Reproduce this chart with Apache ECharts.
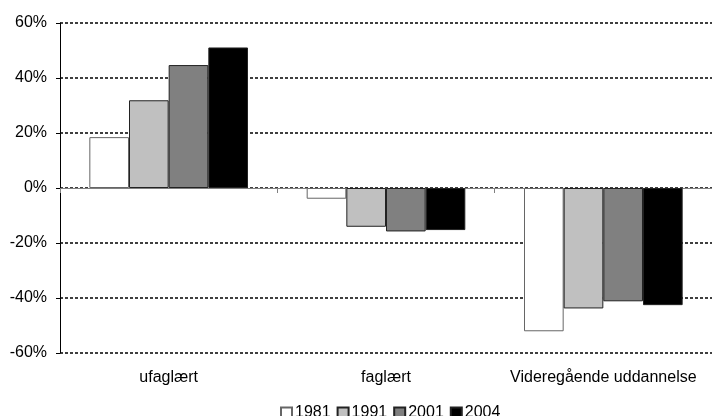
<!DOCTYPE html>
<html>
<head>
<meta charset="utf-8">
<script src="https://cdn.jsdelivr.net/npm/echarts@6/dist/echarts.min.js"></script>
<style>
  html, body { margin: 0; padding: 0; background: #fff; }
  #chart { width: 712px; height: 416px; }
</style>
</head>
<body>
<div id="chart"></div>
<script>
// Education groups and relative change per year (percent)
const categories = ['ufaglært', 'faglært', 'Videregående uddannelse'];
const years = ['1981', '1991', '2001', '2004'];
const values1981 = [18.5, -3.9, -52.1];
const values1991 = [31.9, -14.1, -43.8];
const values2001 = [44.7, -15.8, -41.2];
const values2004 = [51.1, -15.3, -42.6];
const yTicks = [-60, -40, -20, 0, 20, 40, 60];

const fills = ['#ffffff', '#c0c0c0', '#808080', '#000000'];
const seriesValues = [values1981, values1991, values2001, values2004];

const font = '"Liberation Sans", Arial, sans-serif';

const chart = echarts.init(document.getElementById('chart'), null, { renderer: 'canvas' });

chart.setOption({
  animation: false,
  backgroundColor: '#ffffff',
  grid: { left: 60, top: 23, bottom: 63, width: 660, containLabel: false },
  legend: {
    left: 275,
    top: 400,
    itemWidth: 11,
    itemHeight: 11,
    itemGap: 6,
    icon: 'rect',
    textStyle: { fontFamily: font, fontSize: 16, color: '#000', padding: [0, 0, 0, -2] },
    data: years
  },
  xAxis: [
    {
      type: 'category',
      data: categories,
      position: 'bottom',
      axisLine: { onZero: true, lineStyle: { color: '#808080', width: 1 } },
      axisTick: { show: true, length: 5, inside: false, lineStyle: { color: '#808080' } },
      axisLabel: { show: false },
      splitLine: { show: false }
    },
    {
      type: 'category',
      data: categories,
      position: 'bottom',
      axisLine: { show: false },
      axisTick: { show: false },
      axisLabel: { show: true, interval: 0, margin: 17, fontFamily: font, fontSize: 16, color: '#000' },
      splitLine: { show: false }
    }
  ],
  yAxis: {
    type: 'value',
    min: yTicks[0],
    max: yTicks[yTicks.length - 1],
    interval: 20,
    axisLine: { show: true, lineStyle: { color: '#000', width: 1 } },
    axisTick: { show: true, length: 4, lineStyle: { color: '#000' } },
    axisLabel: { margin: 13, fontFamily: font, fontSize: 16, color: '#000', formatter: v => v + '%' },
    splitLine: { show: true, lineStyle: { color: '#000', width: 1.5, type: [3, 2] } }
  },
  series: years.map((y, i) => ({
    name: y,
    type: 'bar',
    xAxisIndex: 0,
    data: seriesValues[i],
    barGap: '0%',
    barCategoryGap: '27%',
    itemStyle: { color: fills[i], borderColor: i === 0 ? '#666' : '#222', borderWidth: 1 }
  }))
});
</script>
</body>
</html>
